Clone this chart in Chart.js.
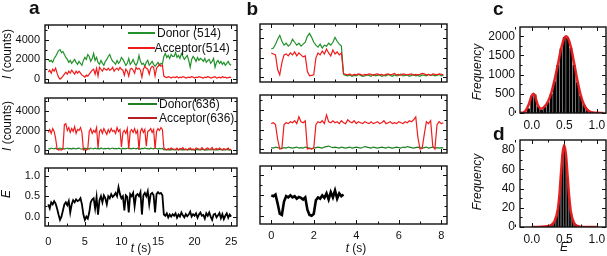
<!DOCTYPE html>
<html><head><meta charset="utf-8">
<script src="https://cdn.jsdelivr.net/npm/chart.js@4/dist/chart.umd.min.js"></script>
<style>
html,body{margin:0;padding:0;background:#fff;}
#root{position:relative;width:607px;height:256px;overflow:hidden;font-family:"Liberation Sans",Arial,sans-serif;color:#111;}
canvas{position:absolute;}
.t{position:absolute;white-space:nowrap;line-height:1;}
.ln{position:absolute;height:2px;}
</style></head><body><div id="root"></div>
<script>
// ---------- DATA ----------
const DT_A = 0.2;   // s per sample, panel a
const DT_B = 0.1;   // s per sample, panel b

const donor514A = [2000,1800,1900,1700,2100,2300, 2600,2900,3000,2700,2800,2500,
 2200,2000,1700,1900,1600,1800,2000,1700,1500, 1800,1600,1400,1900,2200,2000,2500,2300,1800,2100,
 2600,1900,2200,1700,1500,1900,1600,1400,1800,2000, 2300,2500,2100,1800,1700,1500,1900,1600,1800,2200,
 2000,1700,1400,1600,2100,1500,1700,2000,1600,1400, 1700,2400,1800,1500,1600,1300,1700,1900,1400,1600,
 1800,1500,1300,1500,1700,1400,1600,1500, 2300,2600,2200,2400,2100,2500,2300,
 2300,2700,2200,2400,2100,2600,2300,2000,2200,2400, 1900,1200,2000,2300,2100,1800,2200,1900,2100,2000,
 1800,2100,1700,1900,2000,1600,1800,2100,1200,1700, 1900,1600,1800,1500,1700,1400,1600,1800,1500,1400];
const acceptor514A = [700,900,600,1000,800,1100, 600,200,0,100,300,500,
 700,500,800,600,900,700,500,800,600, 800,600,400,300,200,400,300,500,700,900,
 1000,500,1100,300,1200,1000,800,1100,1000,900, 1100,900,1000,1200,800,1000,1100,900,1200,1000,
 900,400,1000,800,300,1000,1100,900,600,1200, 1000,1100,900,200,1000,1300,1100,1000,500,1100,
 1300,1200,300,1100,1300,1500,1300,1400, 300,200,150,250,200,100,200,
 200,150,250,100,200,150,250,200,100,150, 200,150,250,200,100,200,150,250,200,150,
 100,200,150,250,200,100,150,200,250,100, 150,200,100,250,150,200,100,150,200,150];
const donor636A = [150,100,200,150,120,180,100,150,200,130, 170,100,150,200,120,160,100,180,140,110,
 160,200,130,100,150,180,120,160,100,200, 150,110,180,130,160,100,200,140,120,170,
 130,180,100,150,200,120,160,110,190,140, 100,170,150,120,200,130,160,110,180,150,
 120,190,140,100,170,150,210,130,160,100, 180,140,120,190,150,100,170,130,160,
 30,0,50,20,40,10,60,20,0,40, 30,50,10,40,20,60,0,30,50,20, 40,10,30,60,20,0,50,30,10,40,
 20,50,0,30,60,10,40,20,50,30, 0,40,20,60,10,30,20];
const acceptor636A = [1800,2100,1700,2200,1900,1200, 100,0,50,0,100,2600,
 2700,2000,2300,1800,2200,1900,2400,1700,2100, 2000,2300,1800,0,50,0,100,1900,2200,1700,
 2000,1800,2300,200,1900,2100,1700,2200,1900,1600, 2100,1800,2200,1900,2000,1700,2300,1900,2100,300,
 1800,2000,1700,2200,100,1900,2100,1800,2200,1700, 2000,0,1900,2200,1800,2100,400,1900,2000,2200,
 1800,2100,100,1900,2200,2000,2300,2100, 200,100,0,150,50,200,100,
 100,50,200,0,150,100,250,50,100,0, 150,200,50,100,0,200,150,100,50,250,
 100,0,150,200,50,100,250,0,100,150, 50,200,100,0,150,50,100,200,0,100];
const fretA = [0.30,0.20,0.35,0.30,0.38,0.32, 0.20,0.05,-0.08,0.00,0.15,0.30,
 0.35,0.28,0.38,0.10,0.30,0.40,0.35,0.42,0.38, 0.40,0.45,0.30,0.05,-0.08,0.00,-0.05,0.10,0.35,0.42,
 0.45,0.20,0.48,0.05,0.40,0.50,0.35,0.52,0.45,0.30, 0.50,0.45,0.55,0.48,0.52,0.58,0.50,0.72,0.55,0.45,
 0.50,0.15,0.52,0.48,0.10,0.55,0.50,0.58,0.25,0.52, 0.55,0.50,0.60,0.05,0.52,0.58,0.50,0.62,0.30,0.55,
 0.58,0.52,0.10,0.55,0.60,0.56,0.58,0.52, 0.05,0.02,0.08,-0.02,0.05,0.00,0.06,
 0.02,0.08,-0.03,0.05,0.00,0.10,0.03,-0.02,0.06,0.01, 0.05,0.12,0.00,0.06,0.02,0.08,-0.03,0.05,0.10,0.02,
 0.04,-0.05,0.08,0.02,0.10,0.00,-0.08,0.05,0.07,-0.02, 0.03,0.09,-0.04,0.06,-0.06,0.02,0.08,-0.03,0.05,0.00];

const donor514B = [2900,3000,3400,3900,4300,3700,3300,3500,3200,3400,
 3900,3600,3300,3500,3200,3400,3600,4200,4500,4100, 3600,3300,3100,3400,3000,3300,3200,3500,3300,3600,
 4100,3700,3400,3200, 300,200,150,250,100,200,150,300,200,100,
 150,250,200,100,300,150,200,250,100,200, 150,300,200,100,250,150,200,350,150,200,
 250,100,200,300,150,200,100,250,200,150, 300,200,250,150,200,300,150,200];
const acceptor514B = [2500,2400,2300,800,250,1500,2300,2400,2200,2500,
 2300,2600,2200,2500,2300,2100,2200,600,150,200, 250,2000,2500,2300,2700,2400,2900,2500,2200,2800,
 2400,2600,2300,2500, 400,300,250,350,200,300,250,350,300,200,
 300,250,350,300,200,300,350,250,300,200, 300,350,250,300,400,250,300,200,350,300,
 250,300,350,200,300,250,300,400,350,250, 300,200,350,300,250,350,300,250];
const donor636B = [150,100,200,150,100,50,150,100,200,150, 100,150,200,100,150,100,200,150,100,50,
 100,150,200,150,100,200,250,300,200,150, 200,150,100,200,150,100,150,200,100,150,
 200,150,100,150,250,200,150,100,200,150, 100,150,200,150,100,200,150,100,150,200,
 150,100,200,150,250,200,150,100,150,200, 150,100,150,200,100,150,200,100,150,100, 150,100];
const acceptor636B = [2600,2700,2500,1000,0,50,2500,2700,2600,2800,
 2700,2900,2600,3300,2800,2700,2900,0,50,0, 100,2500,2800,2700,2900,2600,3500,2800,2700,2900,
 2700,2800,2600,2900,2700,2600,3000,2800,2700,2900, 2600,2800,2700,2600,2800,2700,2600,2800,2600,2700,
 2800,2600,2700,2900,2600,2700,2800,2600,2700,2600, 2800,2700,2600,2800,2700,2900,2800,3000,3300,1200,
 0,50,1500,2800,2600,2900,300,0,2500,2800, 2600,2700];
const fretB = [0.50,0.48,0.52,0.30,0.05,0.02,0.35,0.48,0.45,0.50,
 0.45,0.48,0.42,0.46,0.44,0.40,0.45,0.15,0.02,0.00, 0.05,0.38,0.45,0.42,0.50,0.44,0.55,0.40,0.58,0.45,
 0.62,0.42,0.55,0.48,0.52];

const histCBins = [-0.15,-0.10,-0.05,0.00,0.05,0.10,0.15,0.20,0.25,0.30,0.35,0.40,0.45,0.50,0.55,0.60,0.65,0.70,0.75,0.80,0.85,0.90,0.95,1.00,1.05];
const histCCounts = [5,20,120,450,480,170,90,160,280,500,820,1250,1680,1980,1950,1700,1250,800,450,220,90,40,20,10,5];
const fitCx = [-0.20,-0.15,-0.10,-0.05,0.00,0.025,0.05,0.075,0.10,0.15,0.20,0.25,0.30,0.35,0.40,0.45,0.50,0.525,0.55,0.60,0.65,0.70,0.75,0.80,0.85,0.90,0.95,1.00,1.10];
const fitCy = [0,5,40,200,450,500,450,300,180,110,170,300,520,850,1250,1660,1950,2000,1970,1720,1300,850,470,220,90,30,10,3,0];

const histDBins = [0.100,0.125,0.150,0.175,0.200,0.225,0.250,0.275,0.300,0.325,0.350,0.375,0.400,0.425,0.450,0.475,0.500,0.525,0.550,0.575,0.600,0.625,0.650,0.675,0.700,0.725,0.750,0.775,0.800];
const histDCounts = [1,0,1,1,1,1,2,2,3,4,6,10,18,32,55,76,86,74,52,30,15,8,4,3,2,1,1,1,0];
const fitDx = [0.0,0.1,0.2,0.3,0.35,0.4,0.425,0.45,0.475,0.5,0.525,0.55,0.575,0.6,0.65,0.7,0.8,1.0];
const fitDy = [0,0,0.5,2,6,18,33,56,77,85,75,53,31,16,4,1,0,0];

const countTicks = [0,2000,4000], countMinor = [1000,3000,5000];
const fretTicks = [0,0.5,1.0], fretMinor = [0.25,0.75];
const timeTicksA = [0,5,10,15,20,25], timeMinorA = [2.5,7.5,12.5,17.5,22.5];
const timeTicksB = [0,2,4,6,8], timeMinorB = [1,3,5,7];
const eTicks = [0,0.5,1.0], eMinor = [-0.25,0.25,0.75];
const freqTicksC = [0,500,1000,1500,2000], freqMinorC = [250,750,1250,1750];
const freqTicksD = [0,20,40,60,80], freqMinorD = [10,30,50,70];

// ---------- HELPERS ----------
const root = document.getElementById('root');
Chart.defaults.font.family = '"Liberation Sans", Arial, sans-serif';
Chart.defaults.color = '#111';
const GREEN = '#23912a', GREEN2 = '#1d8024', RED = '#f01c1c', DRED = '#b52020';

function series(dt, ys){ return ys.map((v,i)=>({x: Math.round(i*dt*1000)/1000, y: v})); }
function pairs(xs, ys){ return ys.map((v,i)=>({x: xs[i], y: v})); }

const framePlugin = {
  id: 'frame',
  afterDatasetsDraw(chart, args, o) {
    const ctx = chart.ctx, a = chart.chartArea, x = chart.scales.x, y = chart.scales.y;
    ctx.save();
    ctx.strokeStyle = '#111'; ctx.lineWidth = 1;
    ctx.beginPath();
    const tk = (vals, len, horiz) => (vals||[]).forEach(v => {
      if (horiz) { const p = Math.round(x.getPixelForValue(v)) + 0.5;
        ctx.moveTo(p, a.bottom); ctx.lineTo(p, a.bottom - len);
        ctx.moveTo(p, a.top); ctx.lineTo(p, a.top + len);
      } else { const p = Math.round(y.getPixelForValue(v)) + 0.5;
        ctx.moveTo(a.left, p); ctx.lineTo(a.left + len, p);
        ctx.moveTo(a.right, p); ctx.lineTo(a.right - len, p);
      }
    });
    tk(o.xMajor, 4, true); tk(o.xMinor, 2.5, true); tk(o.yMajor, 4, false); tk(o.yMinor, 2.5, false);
    ctx.stroke();
    ctx.lineWidth = 1.4;
    ctx.strokeRect(a.left, a.top, a.right - a.left, a.bottom - a.top);
    ctx.restore();
  }
};

function panel(c){
  const f = c.frame, LM = c.lm, TM = 14, RM = 14, BM = c.bm;
  const W = f.r - f.l + LM + RM, H = f.b - f.t + TM + BM;
  const cv = document.createElement('canvas');
  cv.width = W; cv.height = H;
  Object.assign(cv.style, {left:(f.l-LM)+'px', top:(f.t-TM)+'px', width:W+'px', height:H+'px'});
  root.appendChild(cv);
  return new Chart(cv, {
    type: c.type || 'line',
    data: {datasets: c.datasets},
    options: {
      responsive:false, animation:false, devicePixelRatio:1,
      layout:{padding:{left:0, top:TM, right:RM, bottom:0}},
      elements:{point:{radius:0}},
      plugins:{legend:{display:false}, tooltip:{enabled:false},
        frame:{xMajor:c.xMajor, xMinor:c.xMinor, yMajor:c.yMajor, yMinor:c.yMinor}},
      scales:{
        x:{type:'linear', offset:false, min:c.xr[0], max:c.xr[1],
           grid:{display:false, drawTicks:false}, border:{display:false},
           ticks:{display:!!c.xLabels, padding:c.xPad||0, font:{size:c.fs}, color:'#111', maxRotation:0, autoSkip:false,
                  callback: c.xFmt || (v=>String(v))},
           afterBuildTicks: s => { s.ticks = (c.xLabels || c.xMajor).map(v=>({value:v})); },
           afterFit: s => { s.height = BM; }},
        y:{type:'linear', min:c.yr[0], max:c.yr[1],
           grid:{display:false, drawTicks:false}, border:{display:false},
           ticks:{display:!!c.yLabels, padding:c.yPad||0, font:{size:c.fs}, color:'#111', autoSkip:false,
                  callback: c.yFmt || (v=>String(v))},
           afterBuildTicks: s => { s.ticks = (c.yLabels || c.yMajor).map(v=>({value:v})); },
           afterFit: s => { s.width = LM; }}
      }
    },
    plugins:[framePlugin]
  });
}
const trace = (d, col, w) => ({data:d, borderColor:col, borderWidth:w, pointRadius:0, tension:0, fill:false});
const fx1 = v => v.toFixed(1);

// ---------- PANEL a ----------
panel({frame:{l:45,t:25,r:237,b:83}, lm:45, bm:14, fs:11, xr:[-0.45,25.8], yr:[-400,5500],
  xMajor:timeTicksA, xMinor:timeMinorA, yMajor:countTicks, yMinor:countMinor, yLabels:countTicks, yPad:5,
  datasets:[trace(series(DT_A,acceptor514A),RED,1.2), trace(series(DT_A,donor514A),GREEN,1.2)]});
panel({frame:{l:45,t:98,r:237,b:154}, lm:45, bm:14, fs:11, xr:[-0.45,25.8], yr:[-410,5330],
  xMajor:timeTicksA, xMinor:timeMinorA, yMajor:countTicks, yMinor:countMinor, yLabels:countTicks, yPad:5,
  datasets:[trace(series(DT_A,acceptor636A),RED,1.2), trace(series(DT_A,donor636A),GREEN2,1.2)]});
panel({frame:{l:45,t:168,r:237,b:226}, lm:45, bm:30, fs:11, xr:[-0.45,25.8], yr:[-0.23,1.19],
  xMajor:timeTicksA, xMinor:timeMinorA, xLabels:timeTicksA, xPad:9,
  yMajor:fretTicks, yMinor:fretMinor, yLabels:fretTicks, yPad:5, yFmt:fx1,
  datasets:[trace(series(DT_A,fretA),'#000',1.8)]});

// ---------- PANEL b ----------
panel({frame:{l:260,t:24,r:447,b:82}, lm:14, bm:14, fs:11, xr:[-0.53,8.27], yr:[-480,5470],
  xMajor:timeTicksB, xMinor:timeMinorB, yMajor:countTicks, yMinor:countMinor,
  datasets:[trace(series(DT_B,acceptor514B),RED,1.2), trace(series(DT_B,donor514B),GREEN,1.2)]});
panel({frame:{l:260,t:95,r:447,b:153}, lm:14, bm:14, fs:11, xr:[-0.53,8.27], yr:[-410,5540],
  xMajor:timeTicksB, xMinor:timeMinorB, yMajor:countTicks, yMinor:countMinor,
  datasets:[trace(series(DT_B,acceptor636B),RED,1.2), trace(series(DT_B,donor636B),GREEN2,1.2)]});
panel({frame:{l:260,t:166,r:447,b:224}, lm:14, bm:30, fs:11, xr:[-0.53,8.27], yr:[-0.2,1.22],
  xMajor:timeTicksB, xMinor:timeMinorB, xLabels:timeTicksB, xPad:5,
  yMajor:fretTicks, yMinor:fretMinor,
  datasets:[trace(series(DT_B,fretB),'#000',2.6)]});

// ---------- PANELS c, d ----------
const bars = (xs, ys) => ({type:'bar', data:pairs(xs,ys), backgroundColor:'#000', borderWidth:0,
  barPercentage:0.88, categoryPercentage:1, grouped:false, order:2});
const fit = (xs, ys) => ({type:'line', data:pairs(xs,ys), borderColor:'rgba(225,25,25,0.95)', borderWidth:2.6,
  pointRadius:0, tension:0.4, cubicInterpolationMode:'monotone', fill:false, order:1});
panel({type:'bar', frame:{l:520,t:27,r:606,b:113}, lm:45, bm:22, fs:12, xr:[-0.18,1.14], yr:[0,2240],
  xMajor:eTicks, xMinor:eMinor, xLabels:eTicks, xPad:5, xFmt:fx1,
  yMajor:freqTicksC, yMinor:freqMinorC, yLabels:freqTicksC, yPad:5,
  datasets:[fit(fitCx,fitCy), bars(histCBins,histCCounts)]});
panel({type:'bar', frame:{l:520,t:140,r:606,b:227}, lm:45, bm:29, fs:12, xr:[-0.18,1.14], yr:[0,90.4],
  xMajor:eTicks, xMinor:eMinor, xLabels:eTicks, xPad:5, xFmt:fx1,
  yMajor:freqTicksD, yMinor:freqMinorD, yLabels:freqTicksD, yPad:5,
  datasets:[fit(fitDx,fitDy), bars(histDBins,histDCounts)]});

// ---------- TEXT ----------
function txt(html, x, base, size, st={}){
  const d = document.createElement('div'); d.className='t'; d.innerHTML = html;
  d.style.fontSize = size+'px'; d.style.top = (base - 0.8465*size)+'px'; d.style.left = x+'px';
  if (st.bold) d.style.fontWeight = 'bold';
  if (st.center) d.style.transform = 'translateX(-50%)';
  root.appendChild(d); return d;
}
function vtxt(html, baseX, cy, size){
  const d = document.createElement('div'); d.className='t'; d.innerHTML = html;
  d.style.fontSize = size+'px'; d.style.left = (baseX - 0.3465*size)+'px'; d.style.top = cy+'px';
  d.style.transform = 'translate(-50%,-50%) rotate(-90deg)';
  root.appendChild(d); return d;
}
function line(x1, x2, y, col){
  const d = document.createElement('div'); d.className='ln';
  Object.assign(d.style, {left:x1+'px', width:(x2-x1)+'px', top:(y-1)+'px', background:col});
  root.appendChild(d);
}
txt('a', 29, 14.5, 19, {bold:true});
txt('b', 246.5, 15, 19, {bold:true});
txt('c', 493, 15, 19, {bold:true});
txt('d', 493, 140, 19, {bold:true});

vtxt('<i>I</i> (counts)', 11, 54, 12);
vtxt('<i>I</i> (counts)', 11, 126, 12);
vtxt('<i>E</i>', 10, 194, 12);
vtxt('<i>Frequency</i>', 481.5, 72, 12);
vtxt('<i>Frequency</i>', 481.5, 182, 12);

txt('<i>t</i> (s)', 141, 252, 12, {center:true});
txt('<i>t</i> (s)', 356, 252, 12, {center:true});
txt('<i>E</i>', 564, 251.5, 12, {center:true});

line(128, 155, 33, GREEN);  txt('Donor (514)', 157, 37.3, 12);
line(128, 155, 48, RED);    txt('Acceptor(514)', 154.5, 52.3, 12);
line(128, 157, 104, GREEN2); txt('Donor(636)', 159, 108.5, 12);
line(128, 157, 118, DRED);  txt('Acceptor(636)', 159, 122.5, 12);
</script></body></html>
